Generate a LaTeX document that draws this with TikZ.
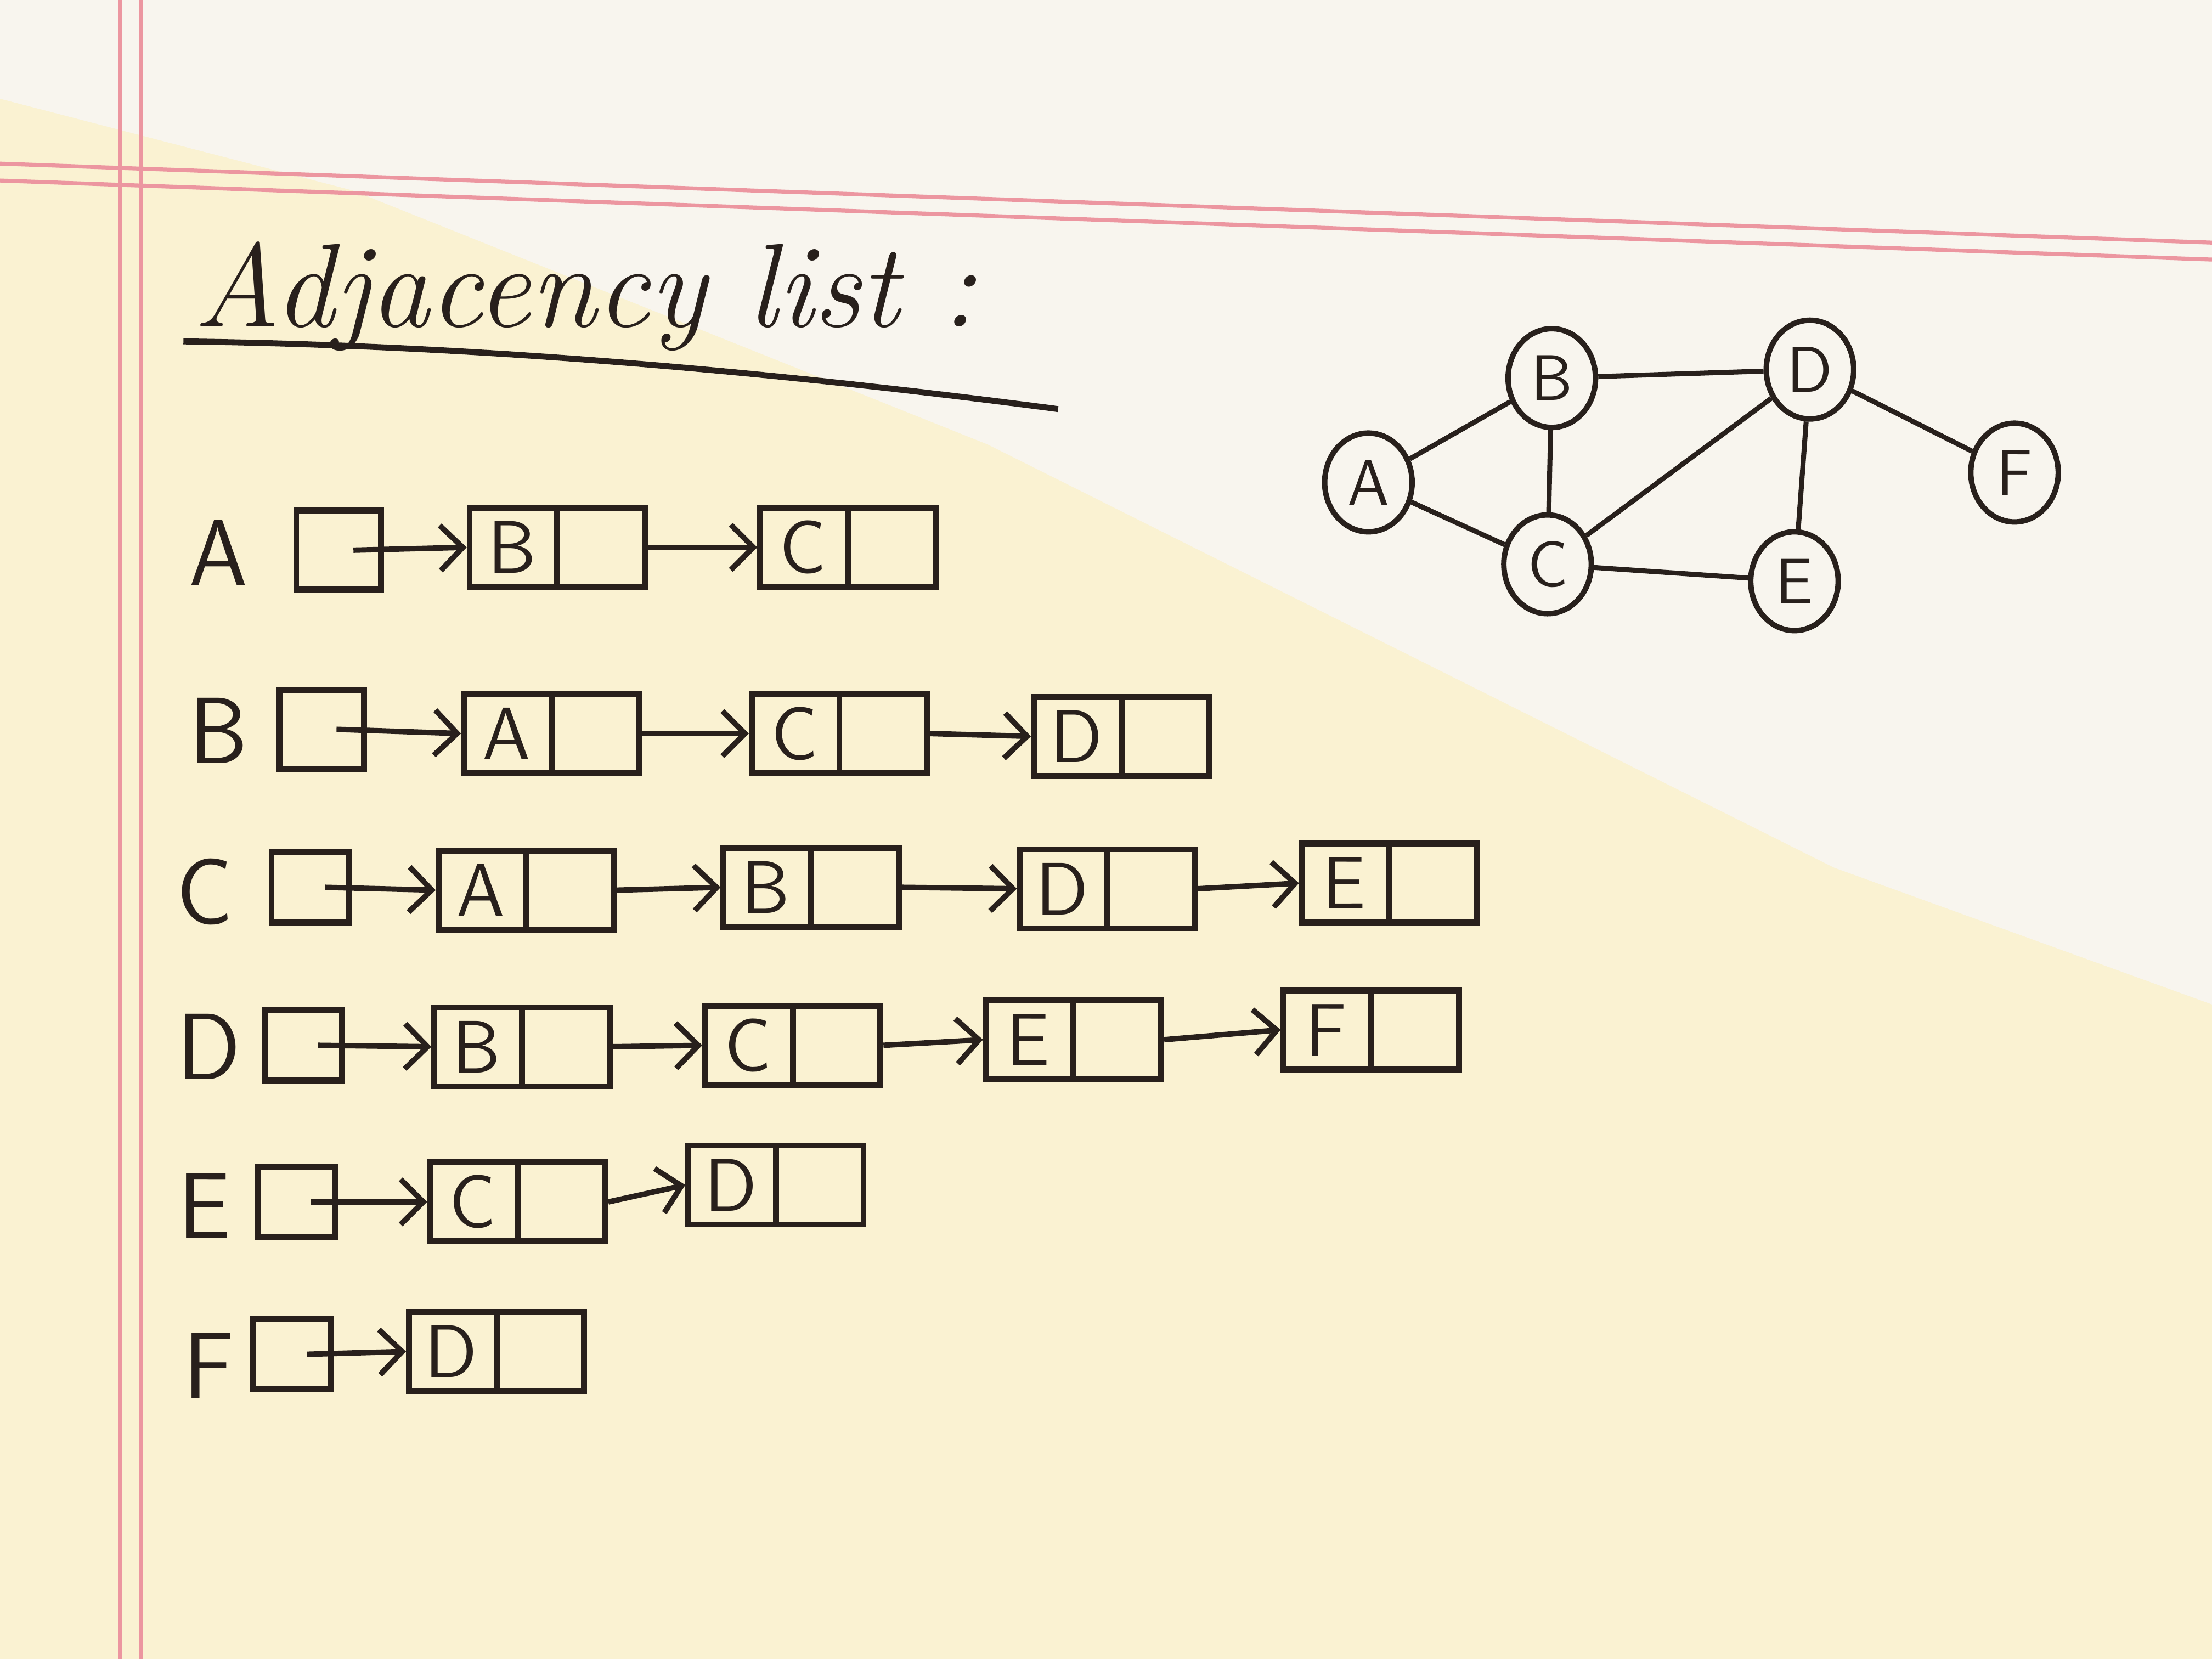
\documentclass[tikz,border=0pt]{standalone}
\usetikzlibrary{arrows.meta, shapes.geometric, shapes.multipart, positioning, calc}
\definecolor{paper}{RGB}{250,242,210}
\definecolor{paperlight}{RGB}{248,245,238}
\definecolor{margin}{RGB}{236,150,160}
\definecolor{ink}{RGB}{40,32,28}

\begin{document}
\begin{tikzpicture}[
    cell/.style={draw=ink, line width=1.2pt, rectangle split, rectangle split horizontal,
      rectangle split parts=2, text width=0.48cm, align=center, minimum height=0.56cm,
      inner xsep=0.06cm, inner ysep=0pt, font=\sffamily\fontsize{15}{15}\selectfont, text=ink},
    head/.style={draw=ink, line width=1.2pt, minimum width=0.55cm, minimum height=0.5cm, inner sep=0pt},
    lbl/.style={font=\sffamily\fontsize{19}{19}\selectfont, text=ink},
    vtx/.style={draw=ink, line width=1.1pt, ellipse, minimum width=0.62cm, minimum height=0.7cm,
      inner sep=0pt, fill=paperlight, font=\sffamily\fontsize{13}{13}\selectfont, text=ink},
    arr/.style={-{Straight Barb[length=1.6mm, width=3.2mm]}, line width=1.1pt, ink},
    edge/.style={line width=1pt, ink}
  ]
  \useasboundingbox (0,0) rectangle (15.68,-11.76);
  % paper
  \fill[paper] (0,0) rectangle (15.68,-11.76);
  \fill[paperlight] (0,0) -- (15.68,0) -- (15.68,-7.12) -- (13.0,-6.15) -- (10.0,-4.65)
    -- (7.0,-3.15) -- (2.5,-1.35) -- (0,-0.7) -- cycle;
  \draw[margin, line width=0.8pt] (0.85,0) -- (0.85,-11.76);
  \draw[margin, line width=0.8pt] (1.00,0) -- (1.00,-11.76);
  \draw[margin, line width=0.8pt] (0,-1.16) -- (15.68,-1.72);
  \draw[margin, line width=0.8pt] (0,-1.28) -- (15.68,-1.84);

  % title
  \node[font=\fontsize{24}{28}\selectfont\itshape, text=ink] (title) at (4.15,-2.1) {Adjacency list :};
  \draw[ink, line width=1.2pt] (1.3,-2.42) .. controls (3.5,-2.45) and (5.6,-2.65) .. (7.5,-2.9);

  % row A
  \node[lbl] (lA) at (1.55,-3.92) {A};
  \node[head, minimum width=0.6cm, minimum height=0.56cm] (hA) at (2.4,-3.9) {};
  \node[cell] (aB) at (3.95,-3.88) {B \nodepart{two}};
  \node[cell] (aC) at (6.01,-3.88) {C \nodepart{two}};
  \draw[arr] ([xshift=3pt]hA.center) -- (aB.west);
  \draw[arr] (aB.east) -- (aC.west);

  % row B
  \node[lbl] (lB) at (1.55,-5.18) {B};
  \node[head, minimum width=0.6cm, minimum height=0.56cm] (hB) at (2.28,-5.17) {};
  \node[cell] (bA) at (3.91,-5.2) {A \nodepart{two}};
  \node[cell] (bC) at (5.95,-5.2) {C \nodepart{two}};
  \node[cell] (bD) at (7.95,-5.22) {D \nodepart{two}};
  \draw[arr] ([xshift=3pt]hB.center) -- (bA.west);
  \draw[arr] (bA.east) -- (bC.west);
  \draw[arr] (bC.east) -- (bD.west);

  % row C
  \node[lbl] (lC) at (1.45,-6.32) {C};
  \node[head] (hC) at (2.2,-6.29) {};
  \node[cell] (cA) at (3.73,-6.31) {A \nodepart{two}};
  \node[cell] (cB) at (5.75,-6.29) {B \nodepart{two}};
  \node[cell] (cD) at (7.85,-6.3) {D \nodepart{two}};
  \node[cell] (cE) at (9.85,-6.26) {E \nodepart{two}};
  \draw[arr] ([xshift=3pt]hC.center) -- (cA.west);
  \draw[arr] (cA.east) -- (cB.west);
  \draw[arr] (cB.east) -- (cD.west);
  \draw[arr] (cD.east) -- (cE.west);

  % row D
  \node[lbl] (lD) at (1.48,-7.42) {D};
  \node[head] (hD) at (2.15,-7.41) {};
  \node[cell] (dB) at (3.7,-7.42) {B \nodepart{two}};
  \node[cell] (dC) at (5.62,-7.41) {C \nodepart{two}};
  \node[cell] (dE) at (7.61,-7.37) {E \nodepart{two}};
  \node[cell] (dF) at (9.72,-7.3) {F \nodepart{two}};
  \draw[arr] ([xshift=3pt]hD.center) -- (dB.west);
  \draw[arr] (dB.east) -- (dC.west);
  \draw[arr] (dC.east) -- (dE.west);
  \draw[arr] (dE.east) -- (dF.west);

  % row E
  \node[lbl] (lE) at (1.45,-8.55) {E};
  \node[head] (hE) at (2.1,-8.52) {};
  \node[cell] (eC) at (3.67,-8.52) {C \nodepart{two}};
  \node[cell] (eD) at (5.5,-8.4) {D \nodepart{two}};
  \draw[arr] ([xshift=3pt]hE.center) -- (eC.west);
  \draw[arr] (eC.east) -- (eD.west);

  % row F
  \node[lbl] (lF) at (1.48,-9.68) {F};
  \node[head] (hF) at (2.07,-9.6) {};
  \node[cell] (fD) at (3.52,-9.58) {D \nodepart{two}};
  \draw[arr] ([xshift=3pt]hF.center) -- (fD.west);

  % graph
  \node[vtx] (A) at (9.7,-3.42) {A};
  \node[vtx] (B) at (11.0,-2.68) {B};
  \node[vtx] (D) at (12.83,-2.62) {D};
  \node[vtx] (F) at (14.28,-3.35) {F};
  \node[vtx] (C) at (10.97,-4.0) {C};
  \node[vtx] (E) at (12.72,-4.12) {E};
  \draw[edge] (A) -- (B);
  \draw[edge] (A) -- (C);
  \draw[edge] (B) -- (D);
  \draw[edge] (B) -- (C);
  \draw[edge] (C) -- (D);
  \draw[edge] (C) -- (E);
  \draw[edge] (D) -- (E);
  \draw[edge] (D) -- (F);
\end{tikzpicture}
\end{document}
